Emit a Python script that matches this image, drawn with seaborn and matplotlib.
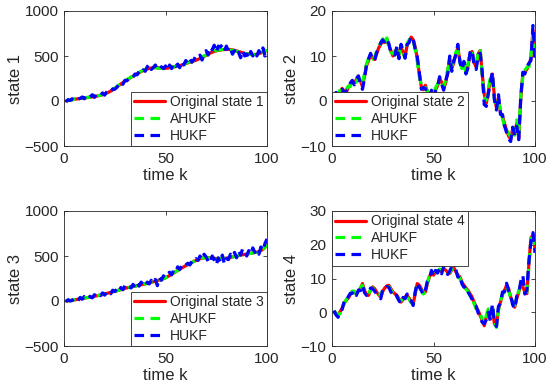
import matplotlib
matplotlib.use("Agg")
import matplotlib.pyplot as plt
import seaborn as sns
import numpy as np

k = list(range(1, 101))

# ---- state 1 ----
s1_true = [0, 5, 10, 14, 18, 22, 25, 28, 31, 34,
           37, 40, 43, 46, 50, 54, 58, 63, 70, 78,
           88, 98, 110, 124, 140, 156, 172, 188, 204, 220,
           234, 248, 262, 276, 290, 302, 314, 326, 338, 348,
           356, 362, 366, 369, 371, 370, 368, 366, 364, 363,
           366, 370, 374, 378, 382, 387, 393, 400, 408, 416,
           424, 432, 439, 446, 453, 462, 472, 484, 496, 508,
           520, 532, 542, 550, 557, 562, 566, 570, 572, 574,
           574, 572, 568, 563, 557, 550, 543, 536, 530, 526,
           522, 519, 517, 517, 520, 526, 534, 543, 552, 560]
s1_ahukf = [2, 8, 12, 12, 20, 24, 23, 30, 33, 32,
            38, 42, 41, 48, 52, 52, 60, 65, 72, 80,
            90, 102, 112, 128, 142, 158, 176, 190, 206, 222,
            238, 250, 266, 278, 292, 306, 318, 330, 344, 352,
            360, 366, 370, 372, 370, 366, 364, 362, 362, 364,
            368, 372, 376, 380, 384, 390, 396, 404, 410, 420,
            428, 436, 442, 450, 458, 468, 478, 490, 500, 512,
            524, 536, 546, 554, 560, 566, 570, 572, 574, 572,
            570, 566, 562, 558, 552, 546, 540, 534, 528, 524,
            520, 516, 516, 518, 522, 530, 538, 546, 556, 564]
s1_hukf = [-10, 15, 5, 25, 10, 35, 20, 30, 45, 25,
           60, 35, 50, 70, 40, 75, 55, 60, 90, 65,
           100, 110, 95, 135, 130, 150, 190, 210, 185, 230,
           225, 250, 270, 260, 300, 290, 330, 310, 345, 330,
           380, 410, 350, 372, 400, 355, 345, 380, 360, 390,
           340, 400, 360, 420, 385, 410, 370, 440, 400, 450,
           420, 470, 430, 460, 500, 480, 510, 455, 520, 560,
           510, 600, 570, 620, 540, 610, 600, 625, 560, 610,
           550, 580, 520, 560, 505, 540, 480, 560, 500, 520,
           470, 550, 500, 540, 500, 560, 520, 590, 500, 560]

# ---- state 2 ----
s2_true = [1.5, 1.8, 1.2, 2.0, 2.8, 2.2, 1.9, 3.0, 3.6, 4.2,
           4.0, 4.8, 5.2, 4.5, 3.2, 5.5, 7.8, 9.0, 10.2, 9.6,
           9.2, 10.5, 11.8, 12.6, 13.4, 13.0, 13.8, 12.5, 11.2, 10.0,
           10.8, 11.5, 10.2, 11.8, 11.0, 9.8, 12.4, 13.2, 14.2, 13.6,
           12.0, 9.5, 6.0, 3.2, 2.5, 3.5, 2.0, 1.2, 1.8, 1.0,
           2.5, 3.4, 5.0, 4.2, 2.8, 4.0, 6.5, 9.5, 7.2, 8.5,
           10.5, 11.8, 9.0, 7.5, 8.2, 6.5, 7.8, 10.2, 11.0, 8.5,
           7.6, 10.5, 11.2, 6.0, 1.5, -0.5, 2.0, 4.5, 6.0, 1.0,
           -1.5, 0.5, -2.5, -3.5, -5.0, -6.5, -7.8, -8.5, -6.2, -7.0,
           -5.0, -8.2, 0.5, 6.0, 6.5, 7.0, 8.0, 9.5, 15.8, 10.0]
s2_ahukf = [1.6, 1.5, 1.9, 2.4, 2.5, 2.0, 2.6, 3.3, 3.2, 4.5,
            4.4, 4.2, 5.5, 4.0, 3.8, 6.2, 8.2, 9.6, 9.8, 9.3,
            9.8, 11.0, 12.2, 12.9, 13.8, 12.8, 14.0, 12.0, 10.8, 10.5,
            11.2, 11.0, 10.0, 12.2, 10.6, 9.6, 12.8, 13.6, 14.0, 13.2,
            11.5, 8.8, 5.5, 3.6, 2.8, 3.0, 2.3, 1.5, 1.5, 1.6,
            2.9, 3.8, 4.6, 3.8, 3.2, 4.6, 7.0, 9.0, 7.8, 8.9,
            10.9, 11.2, 8.6, 7.2, 8.6, 6.2, 8.3, 10.8, 10.6, 8.0,
            8.0, 11.0, 11.6, 5.2, 1.0, 0.2, 2.8, 5.2, 5.6, 0.5,
            -1.0, 0.0, -2.0, -4.0, -5.5, -6.0, -7.2, -8.0, -6.8, -7.6,
            -4.2, -7.5, 1.2, 5.5, 6.8, 7.5, 7.6, 10.2, 14.8, 10.6]
s2_hukf = [1.2, 1.9, 1.0, 2.3, 2.6, 1.8, 2.2, 2.8, 4.0, 4.6,
           3.6, 5.0, 5.6, 3.8, 2.6, 5.0, 8.0, 9.4, 10.6, 9.2,
           9.0, 10.8, 11.6, 13.0, 13.6, 12.6, 13.4, 12.8, 10.6, 10.4,
           10.2, 12.2, 9.4, 12.6, 11.2, 9.5, 12.6, 13.0, 14.4, 13.8,
           11.4, 9.8, 6.4, 2.6, 3.0, 2.8, 1.8, 0.8, 2.4, 0.6,
           2.2, 3.0, 5.4, 3.8, 2.4, 4.6, 6.0, 10.0, 6.6, 9.0,
           10.2, 12.6, 8.6, 7.0, 8.8, 6.0, 7.4, 10.8, 11.4, 8.0,
           7.0, 10.0, 10.6, 6.4, -0.8, -1.2, 1.6, 4.0, 6.4, 0.2,
           -2.0, 1.4, -3.0, -3.0, -5.6, -7.0, -8.4, -9.0, -5.8, -7.6,
           -5.6, -8.6, 1.0, 6.4, 6.0, 7.6, 8.4, 9.0, 16.8, 9.6]

# ---- state 3 ----
s3_true = [0, 3, 6, 9, 12, 16, 20, 24, 28, 32,
           36, 40, 44, 48, 52, 57, 62, 67, 72, 78,
           84, 90, 96, 102, 108, 114, 120, 126, 132, 140,
           146, 152, 156, 160, 165, 170, 175, 180, 185, 190,
           196, 202, 208, 214, 220, 226, 232, 240, 248, 258,
           270, 283, 297, 311, 325, 339, 353, 367, 380, 392,
           404, 416, 428, 440, 451, 461, 470, 476, 480, 482,
           482, 480, 477, 474, 472, 470, 470, 471, 473, 476,
           480, 485, 490, 495, 500, 505, 510, 514, 518, 522,
           526, 530, 534, 538, 543, 550, 560, 575, 595, 625]
s3_ahukf = [2, 5, 4, 10, 14, 14, 22, 25, 26, 34,
            38, 38, 46, 50, 50, 59, 60, 69, 74, 76,
            86, 92, 94, 104, 110, 112, 122, 128, 130, 142,
            148, 150, 158, 162, 163, 172, 177, 178, 187, 192,
            194, 204, 210, 212, 222, 228, 230, 242, 250, 256,
            272, 286, 295, 314, 328, 337, 356, 370, 378, 395,
            406, 418, 426, 442, 454, 460, 472, 478, 478, 484,
            480, 478, 476, 472, 474, 472, 468, 473, 475, 474,
            482, 487, 488, 497, 502, 504, 512, 516, 516, 524,
            528, 528, 536, 540, 541, 552, 562, 572, 598, 630]
s3_hukf = [-10, 15, 0, 5, 25, -5, 10, 40, 20, 50,
           30, 60, 45, 35, 70, 55, 80, 60, 90, 65,
           100, 110, 80, 120, 105, 130, 100, 150, 125, 170,
           140, 160, 145, 185, 150, 200, 165, 210, 180, 160,
           210, 190, 230, 200, 240, 170, 260, 230, 280, 260,
           300, 320, 290, 340, 320, 380, 350, 390, 370, 400,
           420, 400, 440, 430, 470, 450, 500, 460, 520, 490,
           440, 420, 500, 460, 400, 480, 430, 510, 410, 470,
           460, 520, 490, 540, 480, 560, 510, 580, 540, 500,
           560, 520, 590, 540, 570, 520, 600, 560, 640, 690]

# ---- state 4 ----
s4_true = [0.0, -0.5, -1.0, 0.2, 1.2, 2.8, 3.5, 4.2, 5.2, 6.0,
           5.8, 5.5, 6.2, 7.0, 8.5, 6.5, 5.2, 5.0, 6.5, 7.5,
           7.0, 6.0, 5.2, 4.5, 6.2, 7.2, 7.8, 8.0, 7.0, 6.0,
           5.5, 5.0, 4.0, 3.0, 3.8, 4.5, 5.0, 4.2, 3.0, 2.5,
           5.5, 8.5, 8.0, 7.0, 5.8, 6.0, 8.5, 10.5, 11.5, 11.0,
           11.8, 12.2, 12.5, 12.0, 12.8, 12.5, 11.8, 11.5, 12.5, 13.2,
           12.0, 11.0, 10.5, 9.0, 8.0, 7.2, 6.5, 5.5, 4.5, 3.0,
           1.5, 0.5, -1.0, -2.5, -4.0, -1.5, 0.5, -2.0, 1.5, -3.5,
           -4.0, 1.0, 3.0, 5.5, 6.5, 8.0, 7.0, 4.5, 3.0, 1.5,
           4.0, 6.0, 8.5, 7.5, 6.0, 5.5, 14.5, 22.0, 23.0, 19.0]
s4_ahukf = [0.3, -0.2, -0.8, -0.4, 1.6, 2.4, 3.8, 4.6, 4.8, 6.3,
            6.2, 5.2, 5.8, 7.4, 8.0, 6.0, 5.6, 5.4, 6.8, 7.2,
            6.6, 5.6, 5.5, 4.8, 6.6, 7.6, 7.5, 7.6, 6.6, 5.6,
            5.9, 4.6, 3.6, 3.4, 4.2, 4.8, 4.6, 3.8, 2.8, 2.8,
            6.2, 8.2, 7.6, 6.6, 5.4, 6.5, 9.0, 10.8, 11.2, 11.4,
            12.2, 12.0, 12.8, 12.4, 12.4, 12.0, 11.4, 11.8, 12.8, 12.8,
            11.6, 10.8, 10.0, 8.6, 7.6, 6.8, 6.2, 5.0, 4.0, 2.5,
            1.0, 0.8, -0.5, -2.0, -3.5, -1.0, 1.0, -1.5, 2.0, -3.0,
            -4.5, 0.5, 3.5, 5.0, 7.0, 7.5, 6.5, 4.0, 2.6, 2.0,
            4.6, 6.4, 8.0, 7.0, 6.5, 6.0, 14.0, 21.5, 23.4, 19.6]
s4_hukf = [0.5, -0.8, -1.5, 0.6, 0.8, 3.2, 3.0, 4.6, 5.6, 5.6,
           6.4, 5.0, 6.6, 6.4, 8.0, 5.8, 5.0, 5.8, 7.2, 7.0,
           6.2, 5.4, 4.6, 4.0, 6.8, 6.6, 7.6, 7.4, 6.0, 5.4,
           6.0, 4.6, 3.4, 2.6, 4.4, 4.0, 5.4, 3.6, 3.4, 2.0,
           6.0, 8.8, 7.4, 6.4, 5.2, 6.6, 9.2, 10.0, 12.4, 10.6,
           12.4, 11.6, 13.0, 11.4, 13.6, 12.0, 11.2, 12.2, 13.6, 12.8,
           12.6, 10.4, 11.0, 8.4, 7.4, 7.8, 6.0, 5.0, 3.8, 2.2,
           1.8, -0.2, -1.6, -3.0, -3.4, -2.2, 0.0, -2.6, 2.4, -2.8,
           -4.2, 1.8, 2.6, 6.0, 6.0, 8.6, 6.4, 5.0, 2.2, 1.0,
           4.8, 5.4, 9.2, 11.0, 5.4, 6.6, 15.0, 21.0, 23.6, 17.6]

panels = [
    ("state 1", s1_true, s1_ahukf, s1_hukf, (-500, 1000), [-500, 0, 500, 1000], "lower right"),
    ("state 2", s2_true, s2_ahukf, s2_hukf, (-10, 20), [-10, 0, 10, 20], "lower left"),
    ("state 3", s3_true, s3_ahukf, s3_hukf, (-500, 1000), [-500, 0, 500, 1000], "lower right"),
    ("state 4", s4_true, s4_ahukf, s4_hukf, (-10, 30), [-10, 0, 10, 20, 30], "upper left"),
]

# axes boxes in pixels (left, top, right, bottom) of a 550x391 figure
boxes = [(64, 11, 267, 146), (332, 11, 535, 146),
         (64, 211, 267, 346), (332, 211, 535, 346)]

sns.set_style("ticks")
plt.rcParams['font.family'] = ['Liberation Sans', 'DejaVu Sans']
plt.rcParams['xtick.direction'] = 'in'
plt.rcParams['ytick.direction'] = 'in'

fig = plt.figure(figsize=(5.5, 3.91), dpi=100)
W, H = 550, 391

for (name, y_true, y_ah, y_hu, ylim, yticks, loc), (l, t, r, b) in zip(panels, boxes):
    ax = fig.add_axes([l / W, 1 - b / H, (r - l) / W, (b - t) / H])
    sns.lineplot(x=k, y=y_true, ax=ax, color='#ff0000', linewidth=2.3,
                 label='Original ' + name)
    sns.lineplot(x=k, y=y_ah, ax=ax, color='#00ff00', linewidth=2.3,
                 linestyle=(0, (3, 2)), label='AHUKF')
    sns.lineplot(x=k, y=y_hu, ax=ax, color='#0000ff', linewidth=2.3,
                 linestyle=(0, (3, 2)), label='HUKF')
    ax.set_xlim(0, 100)
    ax.set_ylim(*ylim)
    ax.set_xticks([0, 50, 100])
    ax.set_yticks(yticks)
    ax.tick_params(labelsize=11, length=3, width=0.6, color='#262626',
                   top=True, right=True, pad=4)
    for sp in ax.spines.values():
        sp.set_linewidth(0.6)
        sp.set_color('#262626')
    ax.set_xlabel('time k', fontsize=12, labelpad=2)
    ax.set_ylabel(name, fontsize=12, labelpad=1)
    leg = ax.legend(loc=loc, borderaxespad=0, fancybox=False, framealpha=1,
                    edgecolor='#262626', fontsize=10, handlelength=2.2,
                    handletextpad=0.35, labelspacing=0.2, borderpad=0.25)
    leg.get_frame().set_linewidth(0.6)

fig.savefig('out.png', dpi=100)
